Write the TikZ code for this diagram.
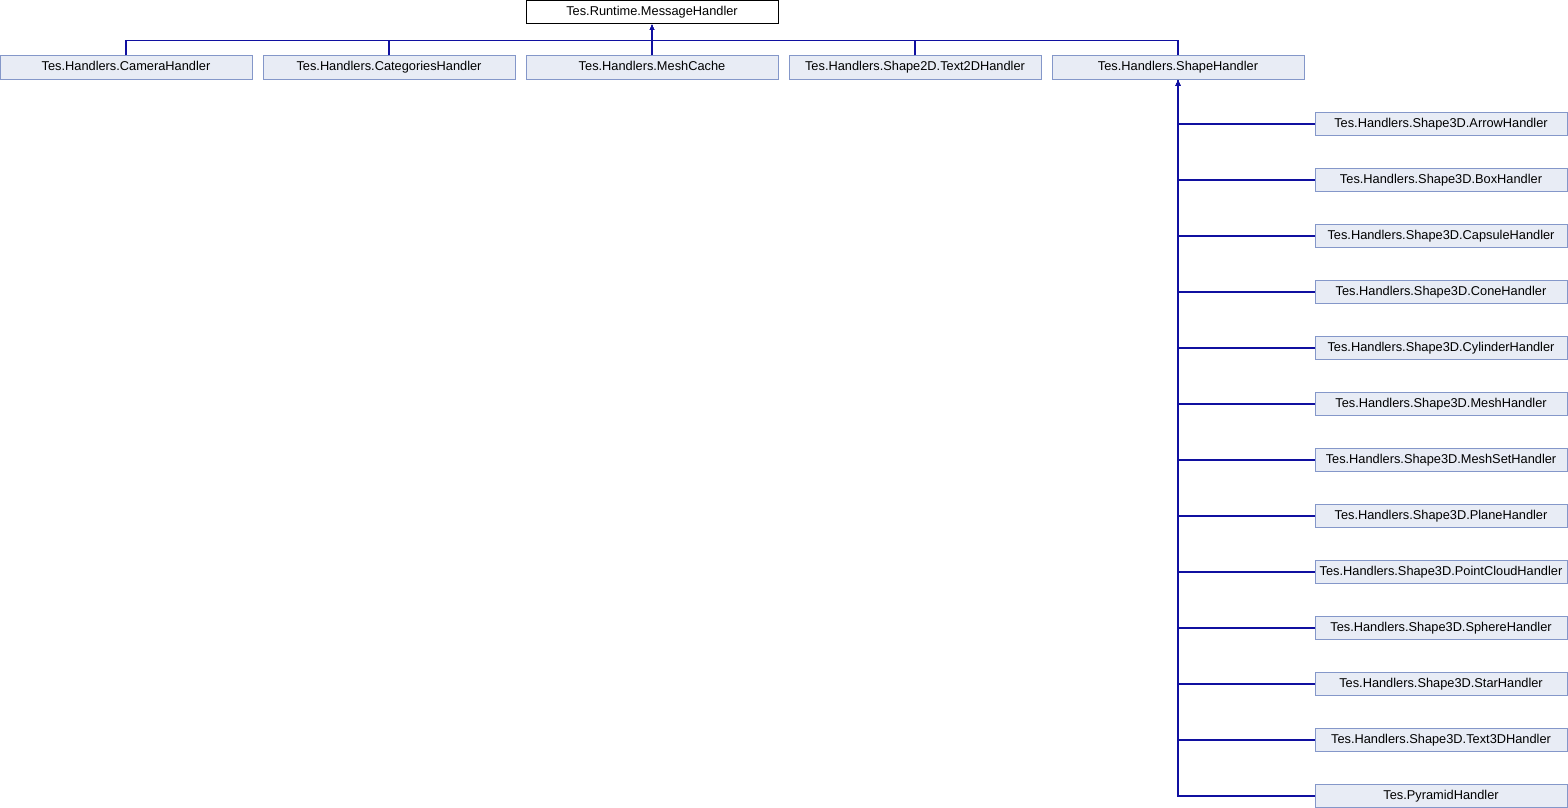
\documentclass[tikz,border=0pt]{standalone}
\usepackage{fontspec}
\setmainfont{Liberation Sans}
\usetikzlibrary{arrows.meta}
\definecolor{boxfill}{RGB}{232,236,245}
\definecolor{boxline}{RGB}{132,151,201}
\definecolor{edgecol}{RGB}{16,16,160}
\tikzset{
  cls/.style={draw=boxline, fill=boxfill, line width=1pt, minimum width=252pt, minimum height=23pt, inner sep=0pt, text height=9.3pt, text depth=2.7pt, font=\fontsize{12.8}{15}\selectfont},
  rootcls/.style={cls, draw=black, fill=white},
  edge/.style={draw=edgecol, line width=1.2pt, -{Latex[length=6pt,width=5pt]}}
}
\begin{document}
\begin{tikzpicture}[x=1pt,y=-1pt]
\useasboundingbox (0,0) rectangle (1568,808);
\node[rootcls] (root) at (652,12) {Tes.Runtime.MessageHandler};
\node[cls] (cam) at (126,67.5) {Tes.Handlers.CameraHandler};
\node[cls] (cat) at (389,67.5) {Tes.Handlers.CategoriesHandler};
\node[cls] (mesh) at (652,67.5) {Tes.Handlers.MeshCache};
\node[cls] (t2d) at (915,67.5) {Tes.Handlers.Shape2D.Text2DHandler};
\node[cls] (shape) at (1178,67.5) {Tes.Handlers.ShapeHandler};
\coordinate (hub) at (652,40.5);
\foreach \n in {cam,cat,mesh,t2d,shape}{
  \draw[edge] (\n.north) |- (hub) -- (root.south);
}
\foreach \n/\t [count=\i from 0] in {
  arrow/Tes.Handlers.Shape3D.ArrowHandler,
  box/Tes.Handlers.Shape3D.BoxHandler,
  capsule/Tes.Handlers.Shape3D.CapsuleHandler,
  cone/Tes.Handlers.Shape3D.ConeHandler,
  cyl/Tes.Handlers.Shape3D.CylinderHandler,
  meshh/Tes.Handlers.Shape3D.MeshHandler,
  meshset/Tes.Handlers.Shape3D.MeshSetHandler,
  plane/Tes.Handlers.Shape3D.PlaneHandler,
  pc/Tes.Handlers.Shape3D.PointCloudHandler,
  sphere/Tes.Handlers.Shape3D.SphereHandler,
  star/Tes.Handlers.Shape3D.StarHandler,
  t3d/Tes.Handlers.Shape3D.Text3DHandler,
  pyr/Tes.PyramidHandler}{
  \node[cls] (\n) at (1441,{124+56*\i}) {\t};
  \draw[edge] (\n.west) -| (shape.south);
}
\end{tikzpicture}
\end{document}
